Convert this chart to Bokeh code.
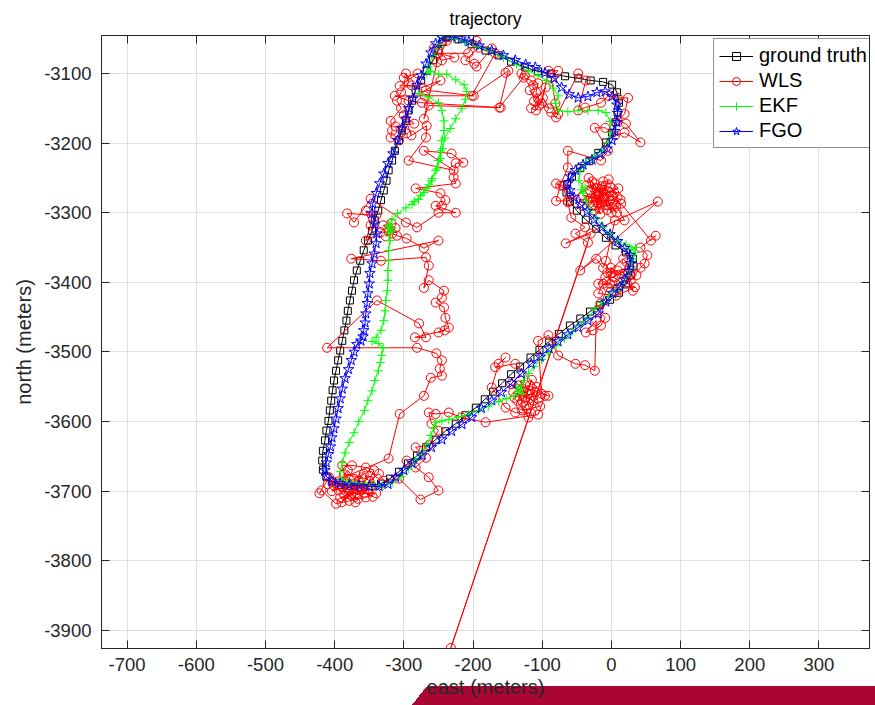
from bokeh.plotting import figure
from bokeh.models import (Range1d, LinearAxis, SingleIntervalTicker, Legend,
                          LegendItem, CustomJSTickFormatter, CustomLabelingPolicy)
from bokeh.embed import file_html
from bokeh.resources import INLINE

# ---------------------------------------------------------------- data (m)
# each track is a list of (east, north) samples in metres
gt_track = [
    (-238, -3047), (-221, -3051), (-202, -3058), (-182, -3067), (-163, -3074),
    (-145, -3083), (-125, -3091), (-106, -3097), (-87, -3100), (-67, -3104),
    (-48, -3107), (-30, -3110), (-12, -3112), (1, -3116), (8, -3127),
    (11, -3142), (9, -3156), (6, -3170), (1, -3185), (-8, -3199),
    (-19, -3214), (-32, -3226), (-45, -3236), (-57, -3248), (-64, -3259),
    (-65, -3271), (-60, -3284), (-50, -3297), (-37, -3310), (-22, -3323),
    (-8, -3336), (6, -3347), (21, -3357), (31, -3366), (32, -3377),
    (28, -3390), (21, -3403), (11, -3415), (-2, -3425), (-17, -3433),
    (-31, -3442), (-45, -3452), (-60, -3462), (-76, -3474), (-90, -3485),
    (-104, -3497), (-117, -3508), (-132, -3521), (-145, -3532), (-158, -3545),
    (-171, -3557), (-183, -3568), (-196, -3580), (-211, -3591), (-225, -3603),
    (-240, -3614), (-254, -3626), (-268, -3637), (-281, -3649), (-294, -3660),
    (-307, -3672), (-320, -3682), (-333, -3689), (-347, -3693), (-362, -3695),
    (-376, -3693), (-391, -3691), (-404, -3686), (-412, -3679), (-417, -3669),
    (-418, -3656), (-417, -3642), (-414, -3627), (-412, -3613), (-409, -3599),
    (-407, -3584), (-405, -3570), (-403, -3555), (-401, -3541), (-398, -3527),
    (-395, -3512), (-392, -3498), (-389, -3484), (-386, -3469), (-383, -3455),
    (-381, -3441), (-378, -3426), (-375, -3412), (-372, -3397), (-368, -3383),
    (-363, -3369), (-358, -3354), (-352, -3340), (-346, -3326), (-342, -3311),
    (-337, -3297), (-333, -3282), (-329, -3268), (-325, -3254), (-322, -3239),
    (-317, -3225), (-313, -3211), (-307, -3196), (-303, -3182), (-297, -3168),
    (-293, -3153), (-288, -3139), (-283, -3124), (-275, -3110), (-267, -3096),
    (-258, -3081), (-250, -3067), (-244, -3055), (-238, -3047),
]

wls_track = [
    (-235, -3048), (-257, -3064), (-245, -3081), (-227, -3077), (-250, -3071),
    (-207, -3071), (-195, -3053), (-192, -3063), (-211, -3081), (-198, -3086),
    (-195, -3090), (-173, -3064), (-168, -3071), (-202, -3132), (-153, -3099),
    (-149, -3096), (-162, -3149), (-125, -3103), (-130, -3100), (-127, -3106),
    (-116, -3110), (-113, -3117), (-106, -3114), (-109, -3127), (-106, -3136),
    (-118, -3124), (-104, -3146), (-95, -3120), (-112, -3140), (-90, -3150),
    (-99, -3135), (-109, -3153), (-116, -3150), (-101, -3143), (-91, -3096),
    (-77, -3096), (-87, -3106), (-81, -3143), (-77, -3158), (-87, -3156),
    (-80, -3163), (-48, -3100), (-37, -3110), (-48, -3153), (-38, -3149),
    (-15, -3142), (-5, -3132), (9, -3135), (24, -3135), (19, -3158),
    (9, -3168), (21, -3172), (42, -3199), (19, -3185), (5, -3189),
    (-9, -3178), (-24, -3178), (-5, -3211), (-15, -3225), (-63, -3211),
    (-63, -3235), (-74, -3261), (-80, -3283), (-63, -3283),
    (-24, -3258), (-1, -3264), (9, -3278), (-15, -3287), (-31, -3268),
    (-19, -3275), (-8, -3261), (-27, -3290), (-12, -3271), (-2, -3283),
    (-34, -3283), (-22, -3265), (4, -3271), (-17, -3294), (-28, -3255),
    (-11, -3280), (-41, -3275), (7, -3290),
    (-6, -3296), (-20, -3286), (2, -3276), (-14, -3262), (-30, -3279),
    (10, -3265), (-4, -3252), (-25, -3297), (-9, -3289), (13, -3281),
    (-36, -3261), (-18, -3270), (0, -3300), (-12, -3255), (-42, -3290),
    (-3, -3270), (-22, -3282), (8, -3300), (-33, -3250), (-16, -3302),
    (-80, -3258), (-70, -3261), (-63, -3285), (-58, -3307), (-38, -3321),
    (-52, -3330), (-34, -3343), (-232, -3925), (-30, -3330), (-66, -3344),
    (67, -3284), (-45, -3383), (-22, -3366), (-12, -3379), (-8, -3369),
    (5, -3311), (19, -3311), (5, -3287), (14, -3287), (57, -3340),
    (64, -3333), (42, -3350), (52, -3361), (48, -3373), (42, -3379),
    (28, -3397), (-1, -3379), (-1, -3387), (-2, -3402), (-12, -3402),
    (-19, -3416), (7, -3419), (34, -3407), (-19, -3402), (-9, -3393),
    (5, -3393), (9, -3383), (19, -3387), (31, -3412),
    (22, -3371), (14, -3400), (2, -3392), (26, -3380), (-6, -3386),
    (17, -3366), (36, -3390), (10, -3408), (-5, -3407),
    (-15, -3430), (-19, -3440), (-9, -3451), (-15, -3462), (-27, -3469),
    (-37, -3472), (-22, -3455), (-24, -3527), (-38, -3519), (-52, -3517),
    (-77, -3505), (-91, -3476), (-106, -3484), (-101, -3560), (-91, -3563),
    (-134, -3548), (-120, -3555), (-127, -3563), (-113, -3570), (-142, -3558),
    (-118, -3548), (-136, -3570), (-110, -3558), (-129, -3584), (-103, -3578),
    (-145, -3546), (-124, -3566), (-115, -3540), (-131, -3576), (-120, -3594),
    (-140, -3566), (-108, -3550),
    (-123, -3577), (-106, -3567), (-132, -3541), (-116, -3588), (-139, -3587),
    (-153, -3580), (-173, -3551), (-163, -3517), (-153, -3508), (-168, -3522),
    (-139, -3517), (-96, -3563), (-106, -3590), (-182, -3601), (-217, -3594),
    (-235, -3587), (-254, -3589), (-264, -3587), (-260, -3603),
    (-250, -3613), (-264, -3634), (-283, -3637), (-268, -3652), (-283, -3666),
    (-296, -3656), (-264, -3680), (-250, -3699), (-276, -3712), (-307, -3682),
    (-329, -3685),
    (-336, -3675), (-350, -3685), (-343, -3670), (-355, -3666), (-375, -3663),
    (-389, -3663), (-383, -3689), (-365, -3695), (-394, -3699), (-369, -3703),
    (-340, -3703), (-355, -3709), (-379, -3714), (-398, -3718), (-419, -3699),
    (-422, -3703), (-408, -3680), (-401, -3692), (-386, -3706), (-362, -3699),
    (-347, -3692), (-372, -3682), (-358, -3675),
    (-380, -3700), (-366, -3711), (-392, -3709), (-351, -3698), (-374, -3690),
    (-360, -3680), (-387, -3676), (-345, -3708), (-395, -3686), (-370, -3716),
    (-357, -3702), (-381, -3670), (-404, -3700), (-365, -3686), (-390, -3716),
    (-349, -3678), (-376, -3706), (-410, -3690), (-322, -3653),
    (-306, -3589), (-271, -3563), (-261, -3537), (-245, -3534), (-248, -3524),
    (-245, -3512), (-253, -3502), (-281, -3494), (-411, -3494), (-339, -3426),
    (-278, -3459), (-268, -3479), (-284, -3479), (-241, -3469), (-250, -3472),
    (-235, -3465), (-240, -3451), (-242, -3436), (-254, -3429), (-245, -3422),
    (-242, -3412), (-264, -3397), (-271, -3408), (-264, -3376), (-268, -3364),
    (-333, -3369), (-376, -3366), (-250, -3340), (-271, -3351), (-296, -3337),
    (-310, -3333), (-317, -3330), (-322, -3326), (-330, -3318), (-312, -3322),
    (-326, -3334), (-318, -3315), (-333, -3328), (-355, -3340), (-348, -3318),
    (-355, -3297), (-340, -3304), (-382, -3301), (-372, -3314), (-348, -3280),
    (-297, -3314), (-281, -3321), (-250, -3300), (-225, -3300), (-254, -3290),
    (-245, -3290), (-240, -3282), (-247, -3272), (-283, -3265), (-225, -3258),
    (-228, -3249), (-225, -3229), (-214, -3228), (-231, -3215), (-271, -3211),
    (-228, -3239), (-293, -3225), (-268, -3192), (-267, -3175), (-289, -3189),
    (-300, -3160), (-285, -3172), (-312, -3176), (-296, -3186),
    (-307, -3196), (-319, -3192), (-317, -3182), (-319, -3168), (-304, -3150),
    (-310, -3139), (-304, -3127), (-293, -3113), (-297, -3100), (-300, -3106),
    (-280, -3100), (-306, -3118),
    (-289, -3117), (-274, -3120), (-247, -3110), (-268, -3124), (-199, -3132),
    (-270, -3132), (-313, -3132), (-293, -3139), (-274, -3142), (-160, -3149),
    (-264, -3146), (-271, -3165), (-252, -3084), (-238, -3053),
]

ekf_track = [
    (-278, -3129), (-264, -3134), (-250, -3142), (-245, -3153), (-242, -3168),
    (-242, -3182), (-245, -3196), (-247, -3211), (-250, -3225), (-254, -3239),
    (-260, -3254), (-267, -3265), (-276, -3275), (-285, -3284), (-297, -3293),
    (-309, -3301), (-317, -3310), (-322, -3317), (-319, -3320), (-323, -3323),
    (-317, -3326), (-322, -3330), (-320, -3340), (-322, -3354), (-322, -3369),
    (-323, -3383), (-323, -3397), (-324, -3412), (-326, -3426), (-327, -3441),
    (-329, -3455), (-333, -3469), (-340, -3479), (-346, -3485), (-337, -3488),
    (-330, -3494), (-332, -3505), (-334, -3515), (-337, -3527), (-342, -3541),
    (-346, -3556), (-352, -3570), (-357, -3584), (-365, -3600), (-372, -3616),
    (-379, -3630), (-385, -3645), (-389, -3659), (-392, -3672), (-391, -3682),
    (-380, -3686), (-369, -3688), (-355, -3689), (-343, -3691), (-330, -3692),
    (-317, -3688), (-304, -3679), (-293, -3668), (-283, -3656), (-274, -3645),
    (-267, -3633), (-261, -3620), (-257, -3609), (-254, -3601), (-245, -3599),
    (-235, -3597), (-221, -3593), (-206, -3590), (-192, -3584), (-178, -3578),
    (-163, -3571), (-152, -3567), (-140, -3563), (-134, -3555), (-129, -3560),
    (-137, -3550), (-131, -3552), (-127, -3541), (-120, -3531), (-112, -3521),
    (-101, -3511), (-91, -3501), (-80, -3491), (-68, -3481), (-57, -3471),
    (-45, -3461), (-34, -3451), (-24, -3439), (-14, -3429), (-4, -3420),
    (6, -3412), (15, -3402), (22, -3390), (28, -3377), (31, -3366),
    (34, -3357), (28, -3353), (35, -3350), (21, -3346), (9, -3339),
    (-2, -3330), (-12, -3320), (-22, -3308), (-31, -3297), (-37, -3284),
    (-41, -3272), (-44, -3267), (-38, -3264), (-47, -3254), (-45, -3239),
    (-37, -3228), (-25, -3219), (-14, -3211), (-5, -3199), (-1, -3185),
    (-2, -3169), (-8, -3156), (-19, -3153), (-34, -3153), (-48, -3153),
    (-63, -3155), (-76, -3153), (-81, -3143), (-77, -3132), (-84, -3121),
    (-94, -3110), (-106, -3103), (-120, -3096), (-137, -3087), (-156, -3077),
    (-175, -3068), (-193, -3061), (-212, -3054), (-228, -3050), (-241, -3048),
    (-250, -3058), (-258, -3074), (-265, -3090), (-267, -3099), (-261, -3097),
    (-250, -3101), (-238, -3101), (-225, -3109), (-213, -3116), (-209, -3126),
    (-211, -3137), (-216, -3150), (-225, -3165), (-233, -3179), (-241, -3193),
    (-244, -3208), (-247, -3222), (-252, -3237), (-259, -3251), (-264, -3260),
    (-271, -3271), (-279, -3281), (-288, -3288),
]

fgo_track = [
    (-245, -3048), (-231, -3047), (-217, -3050), (-206, -3054), (-191, -3060),
    (-173, -3067), (-156, -3074), (-139, -3081), (-124, -3087), (-110, -3091),
    (-96, -3099), (-83, -3107), (-72, -3120), (-61, -3130), (-48, -3135),
    (-34, -3133), (-21, -3127), (-9, -3126), (1, -3133), (8, -3145),
    (9, -3157), (8, -3170), (5, -3183), (1, -3196), (-6, -3208),
    (-16, -3216), (-28, -3224), (-41, -3231), (-52, -3239), (-59, -3248),
    (-63, -3258), (-60, -3268), (-54, -3278), (-45, -3288), (-35, -3298),
    (-25, -3310), (-14, -3321), (-2, -3331), (9, -3341), (19, -3351),
    (27, -3361), (28, -3373), (25, -3384), (19, -3396), (12, -3406),
    (2, -3416), (-8, -3428), (-19, -3445), (-34, -3455), (-48, -3465),
    (-63, -3475), (-77, -3485), (-90, -3495), (-103, -3507), (-116, -3517),
    (-130, -3531), (-144, -3545), (-159, -3558), (-173, -3570), (-188, -3581),
    (-202, -3594), (-216, -3604), (-231, -3614), (-245, -3626), (-260, -3637),
    (-274, -3649), (-288, -3660), (-300, -3670), (-312, -3680), (-323, -3690),
    (-336, -3693), (-350, -3693), (-365, -3692), (-379, -3691), (-392, -3689),
    (-404, -3686), (-412, -3679), (-414, -3670), (-412, -3659), (-409, -3647),
    (-406, -3636), (-404, -3623), (-401, -3610), (-398, -3596), (-395, -3581),
    (-392, -3567), (-389, -3553), (-385, -3538), (-380, -3525), (-376, -3512),
    (-372, -3500), (-368, -3489), (-362, -3484), (-359, -3478), (-358, -3469),
    (-356, -3458), (-355, -3445), (-353, -3430), (-352, -3416), (-350, -3402),
    (-349, -3387), (-346, -3373), (-343, -3359), (-340, -3344), (-339, -3330),
    (-342, -3316), (-346, -3301), (-345, -3287), (-340, -3272), (-335, -3258),
    (-329, -3244), (-323, -3229), (-316, -3215), (-309, -3196), (-303, -3179),
    (-297, -3165), (-293, -3150), (-287, -3136), (-281, -3117), (-275, -3103),
    (-268, -3086), (-261, -3070), (-254, -3057), (-245, -3048),
]

x_ticks_step = 100
y_ticks_step = 100
x_limits = (-737, 373)
y_limits = (-3926, -3045.4)

# ---------------------------------------------------------------- styling
FONT = "Liberation Sans"
INK = "#262626"
GRID = "#dfdfdf"
STRIP = "#aa0634"

p = figure(width=875, height=705, output_backend="svg", toolbar_location=None,
           x_range=Range1d(*x_limits), y_range=Range1d(*y_limits),
           min_border_left=101, min_border_right=0,
           min_border_top=35, min_border_bottom=57,
           title="trajectory",
           x_axis_label="east (meters)", y_axis_label="north (meters)")

p.background_fill_color = "white"
p.border_fill_color = None
p.outline_line_color = INK
p.outline_line_width = 1

# crimson strip along the lower edge of the page, behind the x-axis label
p.styles = {
    "background-image": (f"linear-gradient(to bottom right, transparent 50%, {STRIP} 50%), "
                         f"linear-gradient({STRIP}, {STRIP})"),
    "background-size": "15px 19px, 448px 19px",
    "background-position": "412px 686px, 427px 686px",
    "background-repeat": "no-repeat",
}

p.title.text_font = FONT
p.title.text_font_size = "17.5px"
p.title.text_font_style = "normal"
p.title.text_color = "black"
p.title.align = "center"
p.title.standoff = 6

xt = SingleIntervalTicker(interval=x_ticks_step, num_minor_ticks=0)
yt = SingleIntervalTicker(interval=y_ticks_step, num_minor_ticks=0)
plain_numbers = CustomJSTickFormatter(code="return tick.toFixed(0)")
no_labels = CustomLabelingPolicy(code="return []")


def style_axis(ax, ticker, show_labels=True):
    ax.ticker = ticker
    ax.axis_line_color = INK
    ax.axis_line_width = 1
    ax.major_tick_line_color = INK
    ax.major_tick_in = 8
    ax.major_tick_out = 0
    ax.minor_tick_line_color = None
    ax.major_label_text_font = FONT
    ax.major_label_text_color = INK
    if show_labels:
        ax.formatter = plain_numbers
        ax.major_label_text_font_size = "18.5px"
    else:
        ax.major_label_policy = no_labels
        ax.major_label_text_font_size = "1px"
        ax.major_label_standoff = 0
        ax.axis_label_standoff = 0
    ax.axis_label_text_font = FONT
    ax.axis_label_text_font_size = "20px"
    ax.axis_label_text_font_style = "normal"
    ax.axis_label_text_color = INK


style_axis(p.xaxis[0], xt)
style_axis(p.yaxis[0], yt)
p.xaxis[0].major_label_standoff = 9
p.xaxis[0].axis_label_standoff = 2
p.yaxis[0].major_label_standoff = 10
p.yaxis[0].axis_label_standoff = 6

top_axis = LinearAxis()
right_axis = LinearAxis()
style_axis(top_axis, xt, show_labels=False)
style_axis(right_axis, yt, show_labels=False)
p.add_layout(top_axis, "above")
p.add_layout(right_axis, "right")

p.xgrid.ticker = xt
p.ygrid.ticker = yt
for g in (p.xgrid[0], p.ygrid[0]):
    g.grid_line_color = GRID
    g.grid_line_width = 1

# ---------------------------------------------------------------- tracks
series = [
    ("ground truth", gt_track, "#000000", "square", 7),
    ("WLS", wls_track, "#ff0000", "circle", 9),
    ("EKF", ekf_track, "#00ff00", "cross", 9),
    ("FGO", fgo_track, "#0000ff", "star", 11),
]

items = []
for name, track, color, marker, size in series:
    east = [pt[0] for pt in track]
    north = [pt[1] for pt in track]
    r_line = p.line(east, north, line_color=color, line_width=1)
    r_mark = p.scatter(east, north, marker=marker, size=size,
                       line_color=color, fill_color=None, line_width=1)
    items.append(LegendItem(label=name, renderers=[r_line, r_mark]))

legend = Legend(items=items, location=(612, 500))
legend.label_text_font = FONT
legend.label_text_font_size = "20px"
legend.label_text_color = "black"
legend.glyph_width = 34
legend.glyph_height = 20
legend.label_height = 20
legend.label_standoff = 6
legend.spacing = 2
legend.padding = 5
legend.margin = 0
legend.border_line_color = INK
legend.border_line_width = 1
legend.background_fill_color = "white"
legend.background_fill_alpha = 1
p.add_layout(legend)

open("out.html", "w").write(file_html(p, INLINE))
